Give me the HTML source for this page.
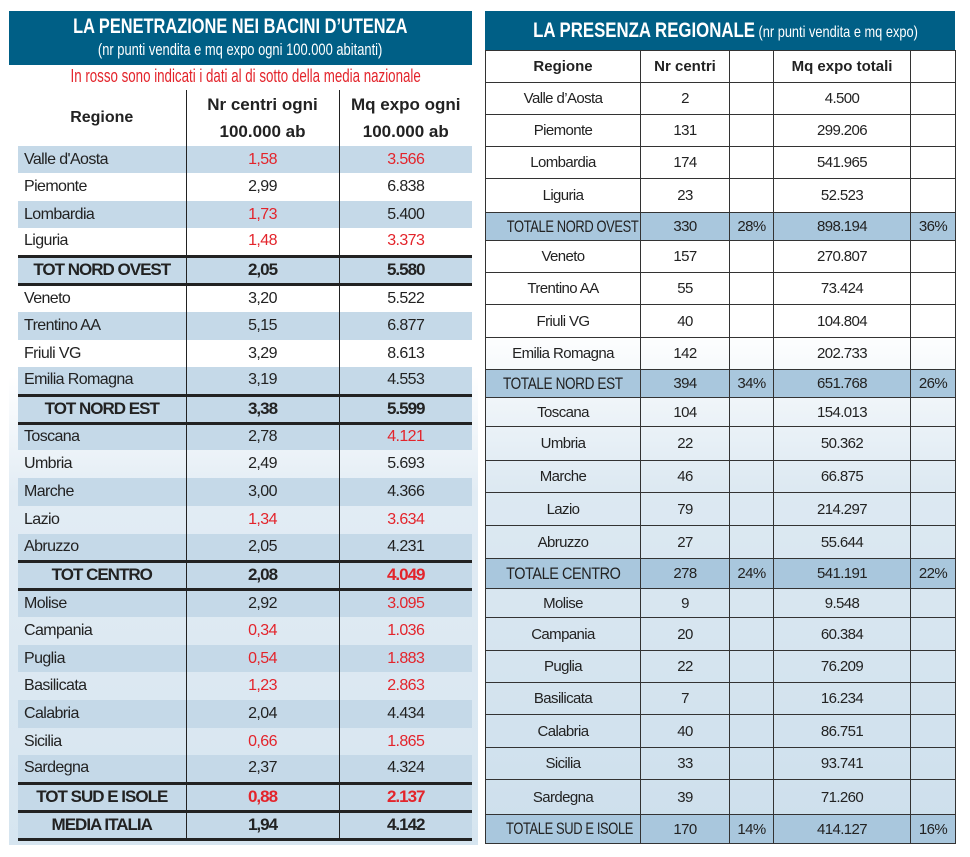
<!DOCTYPE html>
<html><head><meta charset="utf-8"><style>
body{margin:0;width:970px;height:857px;background:#fff;position:relative;overflow:hidden;font-family:"Liberation Sans Narrow","Liberation Sans",sans-serif;color:#222}
.abs{position:absolute}
.sx{display:inline-block;transform:scaleX(.8);transform-origin:center;white-space:nowrap}
table{border-collapse:collapse;table-layout:fixed;position:absolute}
td{padding:0;white-space:nowrap;overflow:hidden}
#L td{font-size:16px;letter-spacing:-0.6px;text-align:center;border-left:1.5px solid #222}
#L td:first-child{border-left:none;text-align:left;padding-left:6px}
#L tr.b td{background:#c5d9e8}
#L tr.w td{background:transparent}
#L tr.t td{background:#c5d9e8;font-weight:bold;font-size:17px;letter-spacing:-1px;border-top:3px solid #222;border-bottom:3px solid #222;text-align:center;padding-left:0}
.r{color:#e3242b}
#R td{font-size:15px;letter-spacing:-0.6px;text-align:center;border:1.2px solid #333}
#R tr.t td{background:#a9c7dd}
#R tr.t td:first-child .sx{font-size:17px;letter-spacing:-0.5px}
</style></head><body>
<div class="abs" style="left:9px;top:64px;width:469px;height:781px;background:linear-gradient(#fff 0%,#fff 40%,#e2ecf4 55%,#d6e5f0 100%)"></div>
<div class="abs" style="left:9px;top:11px;width:463px;height:54px;background:#005f86;color:#fff;text-align:center">
<div style="font-weight:bold;font-size:21px;line-height:26px;margin-top:3px"><span class="sx" style="transform:scaleX(.78)">LA PENETRAZIONE NEI BACINI D’UTENZA</span></div>
<div style="font-size:17px;line-height:20px"><span class="sx" style="transform:scaleX(.76)">(nr punti vendita e mq expo ogni 100.000 abitanti)</span></div></div>
<div class="abs" style="left:9px;top:66px;width:463px;text-align:center;color:#e3242b;font-size:18px"><span class="sx" style="transform:scaleX(.74)">In rosso sono indicati i dati al di sotto della media nazionale</span></div>

<table id="L" style="left:18px;top:90px;width:454px">
<colgroup><col style="width:168px"><col style="width:153px"><col style="width:133px"></colgroup>
<tr style="height:56px"><td style="text-align:center;font-weight:bold;font-size:16px;padding-left:0;letter-spacing:0">Regione</td><td style="font-weight:bold;font-size:17px;line-height:27px;letter-spacing:0">Nr centri ogni<br>100.000 ab</td><td style="font-weight:bold;font-size:17px;line-height:27px;letter-spacing:0">Mq expo ogni<br>100.000 ab</td></tr>
<tr class="b" style="height:27px"><td>Valle d'Aosta</td><td class="r">1,58</td><td class="r">3.566</td></tr>
<tr class="w" style="height:28px"><td>Piemonte</td><td>2,99</td><td>6.838</td></tr>
<tr class="b" style="height:27px"><td>Lombardia</td><td class="r">1,73</td><td>5.400</td></tr>
<tr class="w" style="height:28px"><td>Liguria</td><td class="r">1,48</td><td class="r">3.373</td></tr>
<tr class="t" style="height:28px"><td>TOT NORD OVEST</td><td>2,05</td><td>5.580</td></tr>
<tr class="w" style="height:28px"><td>Veneto</td><td>3,20</td><td>5.522</td></tr>
<tr class="b" style="height:28px"><td>Trentino AA</td><td>5,15</td><td>6.877</td></tr>
<tr class="w" style="height:27px"><td>Friuli VG</td><td>3,29</td><td>8.613</td></tr>
<tr class="b" style="height:28px"><td>Emilia Romagna</td><td>3,19</td><td>4.553</td></tr>
<tr class="t" style="height:28px"><td>TOT NORD EST</td><td>3,38</td><td>5.599</td></tr>
<tr class="b" style="height:27px"><td>Toscana</td><td>2,78</td><td class="r">4.121</td></tr>
<tr class="w" style="height:28px"><td>Umbria</td><td>2,49</td><td>5.693</td></tr>
<tr class="b" style="height:28px"><td>Marche</td><td>3,00</td><td>4.366</td></tr>
<tr class="w" style="height:28px"><td>Lazio</td><td class="r">1,34</td><td class="r">3.634</td></tr>
<tr class="b" style="height:27px"><td>Abruzzo</td><td>2,05</td><td>4.231</td></tr>
<tr class="t" style="height:28px"><td>TOT CENTRO</td><td>2,08</td><td class="r">4.049</td></tr>
<tr class="b" style="height:28px"><td>Molise</td><td>2,92</td><td class="r">3.095</td></tr>
<tr class="w" style="height:28px"><td>Campania</td><td class="r">0,34</td><td class="r">1.036</td></tr>
<tr class="b" style="height:27px"><td>Puglia</td><td class="r">0,54</td><td class="r">1.883</td></tr>
<tr class="w" style="height:28px"><td>Basilicata</td><td class="r">1,23</td><td class="r">2.863</td></tr>
<tr class="b" style="height:28px"><td>Calabria</td><td>2,04</td><td>4.434</td></tr>
<tr class="w" style="height:27px"><td>Sicilia</td><td class="r">0,66</td><td class="r">1.865</td></tr>
<tr class="b" style="height:28px"><td>Sardegna</td><td>2,37</td><td>4.324</td></tr>
<tr class="t" style="height:28px"><td>TOT SUD E ISOLE</td><td class="r">0,88</td><td class="r">2.137</td></tr>
<tr class="t" style="height:28px"><td>MEDIA ITALIA</td><td>1,94</td><td>4.142</td></tr>
</table>

<div class="abs" style="left:485px;top:11px;width:470px;height:39px;background:#005f86;color:#fff;text-align:center;line-height:39px"><span class="sx" style="transform:scaleX(.8)"><span style="font-weight:bold;font-size:21px">LA PRESENZA REGIONALE</span> <span style="font-size:16px">(nr punti vendita e mq expo)</span></span></div>
<table id="R" style="left:485px;top:50px;width:470px;background:linear-gradient(#fff 0%,#fff 35%,#dde9f2 55%,#cddfec 100%)">
<colgroup><col style="width:155px"><col style="width:89px"><col style="width:44px"><col style="width:137px"><col style="width:45px"></colgroup>
<tr style="height:32px;font-weight:bold"><td style="font-weight:bold;font-size:15px;letter-spacing:0">Regione</td><td style="font-weight:bold;letter-spacing:0">Nr centri</td><td></td><td style="font-weight:bold;font-size:15px;letter-spacing:0">Mq expo totali</td><td></td></tr>
<tr style="height:32px"><td>Valle d’Aosta</td><td>2</td><td></td><td>4.500</td><td></td></tr>
<tr style="height:32px"><td>Piemonte</td><td>131</td><td></td><td>299.206</td><td></td></tr>
<tr style="height:32px"><td>Lombardia</td><td>174</td><td></td><td>541.965</td><td></td></tr>
<tr style="height:34px"><td>Liguria</td><td>23</td><td></td><td>52.523</td><td></td></tr>
<tr class="t" style="height:28px"><td><span class="sx" style="transform:scaleX(.76)">TOTALE NORD OVEST</span></td><td>330</td><td>28%</td><td>898.194</td><td>36%</td></tr>
<tr style="height:32px"><td>Veneto</td><td>157</td><td></td><td>270.807</td><td></td></tr>
<tr style="height:32px"><td>Trentino AA</td><td>55</td><td></td><td>73.424</td><td></td></tr>
<tr style="height:33px"><td>Friuli VG</td><td>40</td><td></td><td>104.804</td><td></td></tr>
<tr style="height:32px"><td>Emilia Romagna</td><td>142</td><td></td><td>202.733</td><td></td></tr>
<tr class="t" style="height:28px"><td><span class="sx" style="transform:scaleX(.8)">TOTALE NORD EST</span></td><td>394</td><td>34%</td><td>651.768</td><td>26%</td></tr>
<tr style="height:29px"><td>Toscana</td><td>104</td><td></td><td>154.013</td><td></td></tr>
<tr style="height:34px"><td>Umbria</td><td>22</td><td></td><td>50.362</td><td></td></tr>
<tr style="height:32px"><td>Marche</td><td>46</td><td></td><td>66.875</td><td></td></tr>
<tr style="height:33px"><td>Lazio</td><td>79</td><td></td><td>214.297</td><td></td></tr>
<tr style="height:33px"><td>Abruzzo</td><td>27</td><td></td><td>55.644</td><td></td></tr>
<tr class="t" style="height:30px"><td><span class="sx" style="transform:scaleX(.85)">TOTALE CENTRO</span></td><td>278</td><td>24%</td><td>541.191</td><td>22%</td></tr>
<tr style="height:29px"><td>Molise</td><td>9</td><td></td><td>9.548</td><td></td></tr>
<tr style="height:33px"><td>Campania</td><td>20</td><td></td><td>60.384</td><td></td></tr>
<tr style="height:32px"><td>Puglia</td><td>22</td><td></td><td>76.209</td><td></td></tr>
<tr style="height:32px"><td>Basilicata</td><td>7</td><td></td><td>16.234</td><td></td></tr>
<tr style="height:33px"><td>Calabria</td><td>40</td><td></td><td>86.751</td><td></td></tr>
<tr style="height:32px"><td>Sicilia</td><td>33</td><td></td><td>93.741</td><td></td></tr>
<tr style="height:35px"><td>Sardegna</td><td>39</td><td></td><td>71.260</td><td></td></tr>
<tr class="t" style="height:29px"><td><span class="sx" style="transform:scaleX(.76)">TOTALE SUD E ISOLE</span></td><td>170</td><td>14%</td><td>414.127</td><td>16%</td></tr>
</table>
</body></html>
